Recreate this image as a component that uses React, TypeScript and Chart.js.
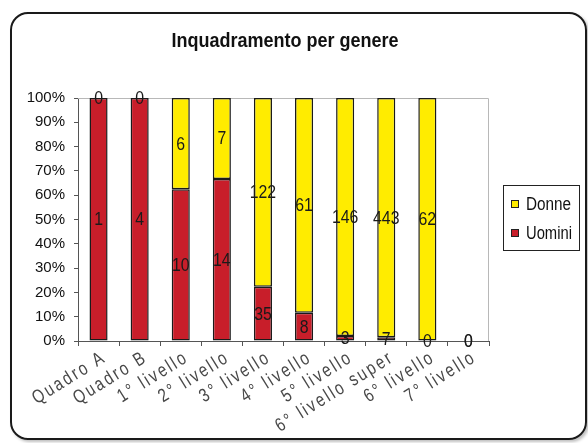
import React, { useEffect, useRef } from "react";
import { Chart, registerables } from "chart.js";

Chart.register(...registerables);

// Staff by level, split by gender
const categories = [
  "Quadro A",
  "Quadro B",
  "1° livello",
  "2° livello",
  "3° livello",
  "4° livello",
  "5° livello",
  "6° livello super",
  "6° livello",
  "7° livello",
];
const uomini = [1, 4, 10, 14, 35, 8, 3, 7, 0, 0];
const donne = [0, 0, 6, 7, 122, 61, 146, 443, 62, 0];
const yTickValues = [0, 10, 20, 30, 40, 50, 60, 70, 80, 90, 100];

const title = "Inquadramento per genere";
const RED = "rgb(200,30,42)";
const YELLOW = "rgb(255,236,0)";

const totals = categories.map((_, i) => uomini[i] + donne[i]);
const share = (arr: number[]) =>
  arr.map((v, i) => (totals[i] > 0 ? (v / totals[i]) * 100 : 0));
// no outline on empty segments
const outline = (arr: number[]) => arr.map((v) => (v > 0 ? 1.5 : 0));

const FONT = "'Liberation Sans', Arial, sans-serif";

// draws text squeezed horizontally, like a narrow typeface
function narrowText(ctx: any, text: string, x: number, y: number, sx: number) {
  ctx.save();
  ctx.translate(x, y);
  ctx.scale(sx, 1);
  ctx.fillText(text, 0, 0);
  ctx.restore();
}

const decorations = {
  id: "decorations",
  beforeDatasetsDraw(chart: any) {
    const { ctx, chartArea } = chart;
    ctx.save();
    ctx.strokeStyle = "#b8b8b8";
    ctx.lineWidth = 1;
    ctx.beginPath();
    ctx.moveTo(chartArea.left, chartArea.top + 0.5);
    ctx.lineTo(chartArea.right - 0.5, chartArea.top + 0.5);
    ctx.lineTo(chartArea.right - 0.5, chartArea.bottom);
    ctx.stroke();
    ctx.restore();
  },
  afterDatasetsDraw(chart: any) {
    const { ctx } = chart;
    ctx.save();
    ctx.fillStyle = "#1a1a1a";
    ctx.font = `18px ${FONT}`;
    ctx.textAlign = "center";
    ctx.textBaseline = "middle";
    chart.data.datasets.forEach((_ds: any, di: number) => {
      const meta = chart.getDatasetMeta(di);
      const counts = di === 0 ? uomini : donne;
      meta.data.forEach((el: any, i: number) => {
        const cy = (el.y + el.base) / 2;
        narrowText(ctx, String(counts[i]), el.x, cy + 1, 0.88);
      });
    });
    ctx.restore();
  },
  afterDraw(chart: any) {
    const { ctx, chartArea } = chart;
    const xScale = chart.scales.x;
    ctx.save();

    // category labels, slanted
    ctx.fillStyle = "#484848";
    ctx.font = `19px ${FONT}`;
    (ctx as any).letterSpacing = "3px";
    ctx.textAlign = "right";
    ctx.textBaseline = "middle";
    const angle = (-32 * Math.PI) / 180;
    categories.forEach((label, i) => {
      const x = xScale.getPixelForValue(i);
      ctx.save();
      ctx.translate(x + 6, chartArea.bottom + 15);
      ctx.rotate(angle);
      ctx.scale(0.79, 1);
      ctx.fillText(label, 0, 0);
      ctx.restore();
    });
    (ctx as any).letterSpacing = "0px";

    // title
    ctx.fillStyle = "#111";
    ctx.font = `bold 20px ${FONT}`;
    ctx.textAlign = "center";
    ctx.textBaseline = "alphabetic";
    narrowText(ctx, title, 285, 47, 0.9);

    // legend
    const lx = 503.5, ly = 185.5, lw = 76, lh = 65;
    ctx.fillStyle = "#fff";
    ctx.fillRect(lx, ly, lw, lh);
    ctx.strokeStyle = "#222";
    ctx.lineWidth = 1;
    ctx.strokeRect(lx, ly, lw, lh);
    const items = [
      { label: "Donne", color: YELLOW, y: 204, sx: 0.85 },
      { label: "Uomini", color: RED, y: 233, sx: 0.82 },
    ];
    ctx.font = `18px ${FONT}`;
    ctx.textAlign = "left";
    ctx.textBaseline = "middle";
    items.forEach((it) => {
      ctx.fillStyle = it.color;
      ctx.fillRect(511.5, it.y - 3.5, 7, 7);
      ctx.strokeStyle = "#222";
      ctx.strokeRect(511.5, it.y - 3.5, 7, 7);
      ctx.fillStyle = "#111";
      narrowText(ctx, it.label, 526, it.y + 1, it.sx);
    });
    ctx.restore();
  },
};

export default function App() {
  const canvasRef = useRef<HTMLCanvasElement | null>(null);

  useEffect(() => {
    if (!canvasRef.current) return;
    const chart = new Chart(canvasRef.current, {
      type: "bar",
      data: {
        labels: categories,
        datasets: [
          {
            label: "Uomini",
            data: share(uomini),
            backgroundColor: RED,
            borderColor: "#1a1a1a",
            borderWidth: outline(uomini),
            borderSkipped: false,
            inflateAmount: 0,
            categoryPercentage: 1,
            barPercentage: 0.44,
          },
          {
            label: "Donne",
            data: share(donne),
            backgroundColor: YELLOW,
            borderColor: "#1a1a1a",
            borderWidth: outline(donne),
            borderSkipped: false,
            inflateAmount: 0,
            categoryPercentage: 1,
            barPercentage: 0.44,
          },
        ],
      },
      options: {
        animation: false,
        responsive: false,
        maintainAspectRatio: false,
        events: [],
        layout: { padding: { left: 0, top: 98, right: 99, bottom: 0 } },
        plugins: {
          legend: { display: false },
          title: { display: false },
          tooltip: { enabled: false },
        },
        scales: {
          x: {
            stacked: true,
            offset: true,
            grid: {
              display: true,
              offset: true,
              drawOnChartArea: false,
              drawTicks: true,
              tickLength: 5,
              color: "#555",
            },
            border: { color: "#555", width: 1 },
            ticks: { display: false, autoSkip: false },
            afterFit(scale: any) {
              scale.height = 102;
            },
          },
          y: {
            stacked: true,
            min: 0,
            max: 100,
            afterBuildTicks(scale: any) {
              scale.ticks = yTickValues.map((v) => ({ value: v }));
            },
            grid: {
              display: true,
              drawOnChartArea: false,
              tickLength: 4,
              color: "#555",
            },
            border: { color: "#555", width: 1 },
            ticks: {
              padding: 9,
              color: "#111",
              font: { family: FONT, size: 15 },
              callback: (v: any) => `${v}%`,
            },
            afterFit(scale: any) {
              scale.width = 78;
            },
          },
        },
      },
      plugins: [decorations],
    });
    return () => chart.destroy();
  }, []);

  return (
    <div style={{ position: "absolute", left: 0, top: 0, width: 588, height: 443, background: "#fff", overflow: "hidden" }}>
      <div
        style={{
          position: "absolute",
          left: 10,
          top: 12,
          width: 577,
          height: 428,
          boxSizing: "border-box",
          border: "2px solid #1a1a1a",
          borderRadius: 18,
          boxShadow: "2px 2px 3px rgba(0,0,0,0.25)",
        }}
      />
      <canvas ref={canvasRef} width={588} height={443} style={{ position: "absolute", left: 0, top: 0 }} />
    </div>
  );
}
